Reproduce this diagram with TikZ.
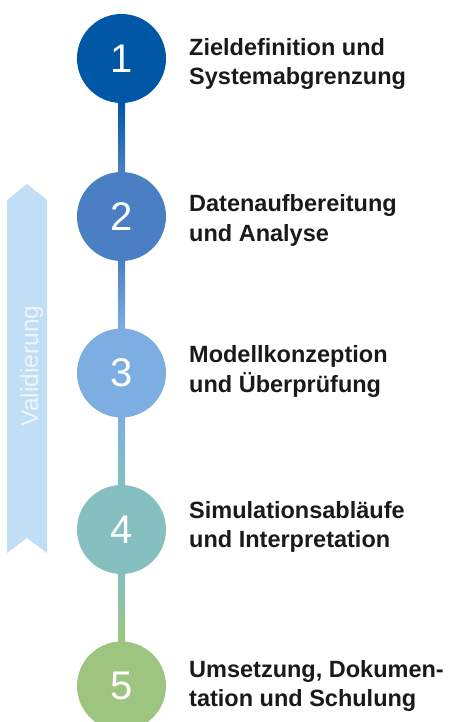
\documentclass[tikz,border=0pt]{standalone}
\usepackage{fontspec}
\setmainfont{Liberation Sans}
\usetikzlibrary{calc}
\definecolor{cone}{HTML}{0057A5}
\definecolor{ctwo}{HTML}{4A80C3}
\definecolor{cthree}{HTML}{7CAEE1}
\definecolor{cfour}{HTML}{86BFC0}
\definecolor{cfive}{HTML}{9DC57F}
\definecolor{arrowblue}{HTML}{C0DEF5}
\definecolor{arrowtext}{HTML}{EEF6FD}
\definecolor{labeltext}{HTML}{1A1A1A}
\begin{document}
\begin{tikzpicture}[x=1pt,y=-1pt,
  stepcircle/.style={circle, minimum size=89pt, inner sep=0pt, text=white,
    font=\fontsize{40}{40}\selectfont},
  steplabel/.style={anchor=west, align=left, inner sep=0pt,
    font=\bfseries\fontsize{23.5}{29.5}\selectfont, text=labeltext}]
\useasboundingbox (0,0) rectangle (454,722);
\clip (0,0) rectangle (454,722);
% validation arrow
\fill[arrowblue] (7,200) -- (27,184) -- (47,200) -- (47,553) -- (27,538) -- (7,553) -- cycle;
\node[rotate=90, anchor=base, inner sep=0pt, text=arrowtext,
  font=\fontsize{24.5}{24.5}\selectfont] (val) at (38,366) {Validierung};
% circles
\node[stepcircle, fill=cone]   (c1) at (121.5,58.5)  {\raisebox{-1.5pt}{1}};
\node[stepcircle, fill=ctwo]   (c2) at (121.5,216.5) {\raisebox{-1.5pt}{2}};
\node[stepcircle, fill=cthree] (c3) at (121.5,373)   {\raisebox{-1.5pt}{3}};
\node[stepcircle, fill=cfour]  (c4) at (121.5,529.5) {\raisebox{-1.5pt}{4}};
\node[stepcircle, fill=cfive]  (c5) at (121.5,686)   {\raisebox{-1.5pt}{5}};
% connectors
\shade[top color=cone, bottom color=ctwo]     ($(c1.south)+(-3.5,0)$) rectangle ($(c2.north)+(3.5,0)$);
\shade[top color=ctwo, bottom color=cthree]   ($(c2.south)+(-3.5,0)$) rectangle ($(c3.north)+(3.5,0)$);
\shade[top color=cthree, bottom color=cfour]  ($(c3.south)+(-3.5,0)$) rectangle ($(c4.north)+(3.5,0)$);
\shade[top color=cfour, bottom color=cfive]   ($(c4.south)+(-3.5,0)$) rectangle ($(c5.north)+(3.5,0)$);
% labels
\node[steplabel] (l1) at (189,63.75)  {Zieldefinition und\\Systemabgrenzung};
\node[steplabel] (l2) at (189,220.5)  {Datenaufbereitung\\und Analyse};
\node[steplabel] (l3) at (189,371.25) {Modellkonzeption\\und Überprüfung};
\node[steplabel] (l4) at (189,527)    {Simulationsabläufe\\und Interpretation};
\node[steplabel] (l5) at (189,685.75) {Umsetzung, Dokumen-\\tation und Schulung};
\end{tikzpicture}
\end{document}
